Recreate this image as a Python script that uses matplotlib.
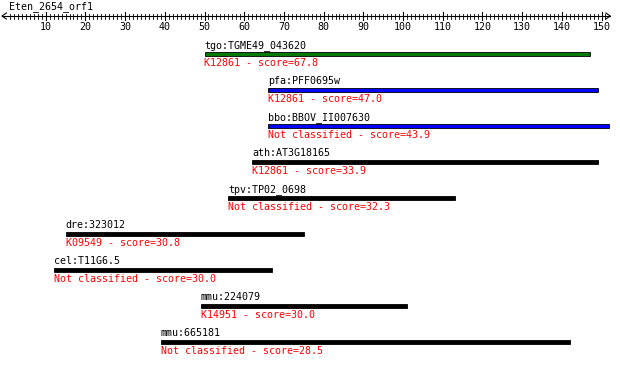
import matplotlib
matplotlib.use("Agg")
import matplotlib.pyplot as plt
import numpy as np

# query and hits (positions along the query, in residues)
QUERY = "Eten_2654_orf1"
QUERY_LEN = 152
hits = ["tgo:TGME49_043620", "pfa:PFF0695w", "bbo:BBOV_II007630", "ath:AT3G18165",
        "tpv:TP02_0698", "dre:323012", "cel:T11G6.5", "mmu:224079", "mmu:665181"]
ko = ["K12861", "K12861", "Not classified", "K12861", "Not classified",
      "K09549", "Not classified", "K14951", "Not classified"]
scores = [67.8, 47.0, 43.9, 33.9, 32.3, 30.8, 30.0, 30.0, 28.5]
starts = [50, 66, 66, 62, 56, 15, 12, 49, 39]
ends = [147, 149, 152, 149, 113, 75, 67, 101, 142]
colors = ["#007a00", "#0000ff", "#0000ff", "#000000", "#000000",
          "#000000", "#000000", "#000000", "#000000"]

# pixel-ish layout: x = 6 + 3.97 * pos
PX_PER = 3.97
X0 = 6

fig = plt.figure(figsize=(6.2, 3.65), dpi=100)
ax = fig.add_axes([0, 0, 1, 1])
ax.set_xlim(-X0 / PX_PER, (620 - X0) / PX_PER)
ax.set_ylim(365, 0)
ax.axis("off")

mono = "DejaVu Sans Mono"
fs = 7.2

# ruler with open chevron ends
ry = 16
left_tip, right_tip = -1.0, QUERY_LEN + 0.2
ax.plot([left_tip, right_tip], [ry, ry], color="black", lw=0.8)
ax.plot([left_tip + 1.1, left_tip, left_tip + 1.1], [ry - 3, ry, ry + 3], color="black", lw=0.8)
ax.plot([right_tip - 1.1, right_tip, right_tip - 1.1], [ry - 3, ry, ry + 3], color="black", lw=0.8)
for p in range(1, QUERY_LEN):
    if p % 10 == 0:
        ax.plot([p, p], [12, 20], color="black", lw=0.8)
        ax.text(p, 27, str(p), ha="center", va="center", fontsize=fs, family=mono)
    else:
        ax.plot([p, p], [13.5, 18.5], color="black", lw=0.6)
ax.text(0.8, 7, QUERY, ha="left", va="center", fontsize=fs, family=mono)

# hit bars
ys = 54 + 36 * np.arange(len(hits))
widths = np.array(ends) - np.array(starts)
ax.barh(ys, widths, left=starts, height=4.5, color=colors, edgecolor="black", linewidth=0.6)
for y, s, name, k, sc in zip(ys, starts, hits, ko, scores):
    ax.text(s, y - 8.5, name, ha="left", va="center", fontsize=fs, family=mono, color="black")
    ax.text(s, y + 9, f"{k} - score={sc:.1f}", ha="left", va="center",
            fontsize=fs, family=mono, color="red")

fig.savefig("out.png", dpi=100)
